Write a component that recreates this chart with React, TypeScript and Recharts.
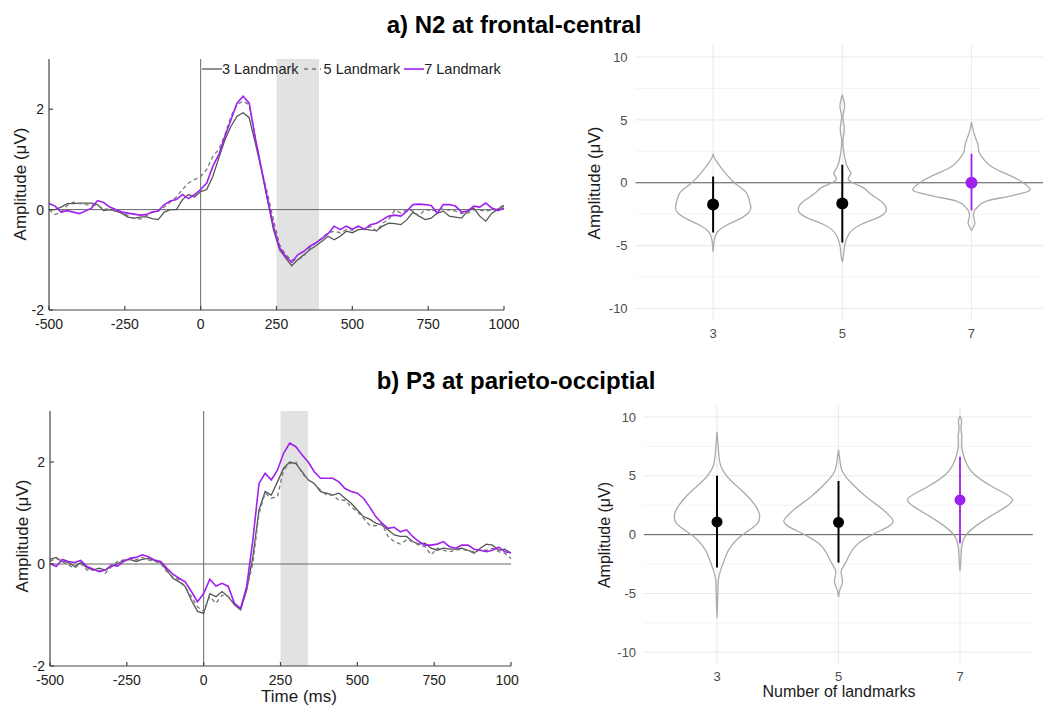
import React from 'react';
import {
  LineChart, Line, XAxis, YAxis, ReferenceLine, ReferenceArea,
  ScatterChart, Scatter, CartesianGrid,
} from 'recharts';

// ---------- ERP data (µV) ----------
const times = [-500,-480,-460,-440,-420,-400,-380,-360,-340,-320,-300,-280,-260,-240,-220,-200,-180,-160,-140,-120,-100,-80,-60,-40,-20,0,
  20,40,60,80,100,120,140,160,180,200,220,240,260,280,300,320,340,360,380,400,420,440,460,480,500,
  520,540,560,580,600,620,640,660,680,700,720,740,760,780,800,820,840,860,880,900,920,940,960,980,1000];
const xTicks = [-500, -250, 0, 250, 500, 750, 1000];
const yTicksErp = [-2, 0, 2];
const seriesNames = ['3 Landmark', '5 Landmark', '7 Landmark'];

const n2_3 = [0.0,0.0,0.05,0.12,0.12,0.13,0.13,0.13,0.1,-0.02,0.0,-0.03,-0.07,-0.15,-0.17,-0.15,-0.14,-0.18,-0.2,-0.05,0.0,0.0,0.2,0.3,0.25,0.36,
  0.4,0.66,1.03,1.39,1.66,1.86,1.93,1.83,1.33,0.8,0.2,-0.4,-0.8,-0.96,-1.12,-1.0,-0.9,-0.8,-0.72,-0.63,-0.53,-0.6,-0.53,-0.43,-0.46,
  -0.4,-0.39,-0.41,-0.42,-0.33,-0.27,-0.28,-0.3,-0.2,-0.05,-0.13,-0.2,-0.17,-0.07,-0.03,-0.13,-0.15,-0.17,-0.03,0.03,-0.13,-0.23,-0.07,0.01,0.08];
const n2_5 = [0.0,-0.1,-0.05,0.08,0.15,0.12,0.1,0.09,0.08,0.02,0.0,-0.03,-0.05,-0.12,-0.18,-0.19,-0.13,-0.05,-0.03,0.05,0.15,0.25,0.4,0.53,0.6,0.66,
  0.8,1.06,1.2,1.49,1.86,2.09,2.16,2.09,1.43,0.8,0.33,-0.2,-0.7,-0.9,-1.0,-1.0,-0.93,-0.76,-0.66,-0.56,-0.46,-0.43,-0.46,-0.4,-0.41,
  -0.33,-0.4,-0.33,-0.43,-0.27,-0.2,-0.01,-0.07,0.0,-0.03,-0.13,0.01,-0.03,0.0,0.01,-0.01,-0.03,-0.08,-0.07,0.0,-0.01,-0.03,-0.01,0.01,0.1];
const n2_7 = [0.12,0.07,-0.05,-0.02,-0.05,-0.08,-0.03,0.03,0.18,0.14,0.05,0.0,-0.05,-0.07,-0.09,-0.11,-0.1,-0.05,-0.03,0.1,0.17,0.2,0.3,0.22,0.3,0.4,
  0.53,0.86,1.1,1.46,1.79,2.12,2.26,2.12,1.43,0.83,0.23,-0.33,-0.76,-0.93,-1.05,-0.9,-0.83,-0.73,-0.66,-0.58,-0.48,-0.33,-0.4,-0.33,-0.39,
  -0.33,-0.39,-0.3,-0.27,-0.2,-0.13,-0.11,-0.13,-0.03,0.1,0.11,0.1,0.08,-0.07,0.1,0.1,0.07,-0.05,-0.03,0.07,0.05,0.13,0.03,-0.02,0.03];

const p3_3 = [0.09,0.13,0.05,0.03,-0.05,0.03,-0.07,-0.12,-0.08,-0.12,-0.05,0.01,0.07,0.09,0.05,0.09,0.11,0.07,0.03,-0.12,-0.28,-0.35,-0.44,-0.71,-0.93,-0.97,
  -0.58,-0.64,-0.54,-0.64,-0.8,-0.9,-0.51,0.14,1.06,1.42,1.35,1.61,1.88,2.0,1.97,1.81,1.65,1.58,1.42,1.39,1.35,1.39,1.29,1.19,1.06,
  0.93,0.88,0.8,0.76,0.67,0.57,0.54,0.54,0.44,0.39,0.41,0.31,0.27,0.31,0.29,0.29,0.31,0.27,0.21,0.31,0.39,0.37,0.27,0.29,0.21];
const p3_5 = [0.05,0.11,0.05,-0.02,-0.08,0.01,-0.12,-0.12,-0.12,-0.18,-0.05,0.05,0.08,0.09,0.08,0.13,0.08,0.05,0.01,-0.15,-0.25,-0.31,-0.44,-0.64,-0.84,-0.93,
  -0.64,-0.77,-0.61,-0.64,-0.77,-0.9,-0.48,0.01,0.99,1.39,1.29,1.32,1.84,1.97,2.0,1.78,1.65,1.57,1.45,1.35,1.35,1.25,1.25,1.12,1.03,
  0.9,0.76,0.75,0.8,0.54,0.44,0.39,0.47,0.44,0.37,0.34,0.18,0.31,0.27,0.24,0.27,0.29,0.26,0.24,0.27,0.27,0.31,0.24,0.21,0.11];
const p3_7 = [0.01,-0.05,0.09,0.05,0.03,0.07,-0.05,-0.1,-0.15,-0.12,-0.02,-0.04,0.05,0.11,0.13,0.18,0.14,0.08,0.05,-0.08,-0.2,-0.28,-0.35,-0.54,-0.74,-0.58,
  -0.3,-0.43,-0.38,-0.44,-0.77,-0.87,-0.44,0.47,1.58,1.78,1.65,1.84,2.17,2.37,2.3,2.14,2.0,1.81,1.68,1.68,1.68,1.61,1.48,1.42,1.39,
  1.29,1.12,0.93,0.8,0.7,0.72,0.63,0.67,0.54,0.44,0.37,0.37,0.39,0.44,0.34,0.31,0.37,0.37,0.29,0.27,0.24,0.27,0.33,0.24,0.22];

const n2Window = [250, 390];
const p3Window = [250, 340];

// ---------- Violin data: [amplitude µV, half-width in category units] ----------
const catLabels = ['3', '5', '7'];
const violinYTicks = [-10, -5, 0, 5, 10];
const gridMajor = [-10, -5, 0, 5, 10];
const gridMinor = [-7.5, -2.5, 2.5, 7.5];

const n2Violin3 = [[2.3,0],[1.8,0.02],[0.7,0.1],[-0.1,0.176],[-0.75,0.253],[-1.4,0.28],[-2.1,0.29],[-2.75,0.227],[-3.4,0.1],[-3.9,0.034],[-4.6,0.008],[-5.5,0]];
const n2Violin5 = [[7.0,0],[6.05,0.018],[5.25,0.005],[4.3,0.016],[3.4,0.005],[2.2,0.015],[1.25,0.04],[0.7,0.065],[0.2,0.05],[-0.35,0.155],[-0.9,0.22],[-1.55,0.31],[-2.2,0.34],[-2.75,0.28],[-3.4,0.13],[-4.1,0.05],[-4.9,0.02],[-5.7,0.01],[-6.3,0]];
const n2Violin7 = [[4.85,0],[4.3,0.01],[3.6,0.03],[3.0,0.05],[2.4,0.06],[1.8,0.1],[1.25,0.16],[0.7,0.27],[0.2,0.37],[-0.5,0.452],[-0.8,0.4],[-1.1,0.28],[-1.45,0.12],[-1.9,0.05],[-2.3,0.02],[-2.8,0.018],[-3.2,0.026],[-3.5,0.015],[-3.8,0]];
const n2Means = [-1.73, -1.65, 0.0];
const n2Lo = [-3.95, -4.75, -2.2];
const n2Hi = [0.5, 1.44, 2.3];

const p3Violin3 = [[8.75,0],[7.75,0.008],[6.9,0.014],[5.8,0.033],[4.65,0.11],[3.5,0.23],[2.4,0.32],[1.67,0.35],[0.96,0.333],[0.25,0.246],[-0.45,0.16],[-1.3,0.096],[-2.15,0.06],[-3.0,0.03],[-3.85,0.011],[-4.7,0.008],[-5.55,0.005],[-7.1,0]];
const p3Violin5 = [[7.2,0],[6.35,0.011],[5.35,0.033],[4.35,0.11],[3.2,0.23],[2.1,0.37],[1.4,0.437],[1.1,0.45],[0.68,0.41],[0.11,0.3],[-0.74,0.164],[-1.6,0.096],[-2.45,0.055],[-3.15,0.022],[-4.0,0.033],[-4.7,0.011],[-5.3,0]];
const p3Violin7 = [[10.1,0],[9.6,0.014],[9.0,0.008],[8.3,0.016],[7.5,0.014],[6.35,0.041],[5.2,0.11],[4.2,0.246],[3.5,0.369],[3.0,0.432],[2.4,0.383],[1.53,0.246],[0.68,0.123],[-0.17,0.041],[-1.0,0.014],[-1.87,0.008],[-3.15,0]];
const p3Means = [1.08, 1.05, 2.95];
const p3Lo = [-2.8, -2.38, -0.74];
const p3Hi = [5.0, 4.56, 6.63];

// ---------- styles ----------
const FONT = "'Liberation Sans', Arial, Helvetica, sans-serif";
const C3 = '#555555';
const C5 = '#777777';
const C7 = '#a020f0';
const dotColors = ['#000000', '#000000', C7];

function buildRows(a: number[], b: number[], c: number[]) {
  return times.map((t, i) => ({ t, s3: a[i], s5: b[i], s7: c[i] }));
}

function outline(pairs: number[][], c: number) {
  const left = pairs.map(([y, w]) => ({ x: c - w, y }));
  const right = [...pairs].reverse().slice(1).map(([y, w]) => ({ x: c + w, y }));
  return left.concat(right);
}

const noShape = () => null;

function ErpChart({ rows, win, width, height, top, plotRight, yAxisWidth }: any) {
  return (
    <LineChart width={width} height={height} data={rows}
      margin={{ top, right: width - plotRight, bottom: 0, left: 0 }}
      style={{ fontFamily: FONT }}>
      <ReferenceArea x1={win[0]} x2={win[1]} fill="#e2e2e2" fillOpacity={1} stroke="none" />
      <ReferenceLine x={0} stroke="#666" strokeWidth={1} />
      <ReferenceLine y={0} stroke="#666" strokeWidth={1} />
      <XAxis type="number" dataKey="t" domain={[-500, 1000]} ticks={xTicks} interval={0}
        tickSize={-4} tickMargin={13} height={30} stroke="#444" strokeWidth={1.2}
        tick={{ fill: '#222', fontSize: 14, fontFamily: FONT }} />
      <YAxis type="number" domain={[-2, 3]} ticks={yTicksErp} interval={0}
        tickSize={-4} tickMargin={9} width={yAxisWidth} stroke="#444" strokeWidth={1.2}
        tick={{ fill: '#222', fontSize: 14, fontFamily: FONT }} />
      <Line type="linear" dataKey="s3" name={seriesNames[0]} stroke={C3} strokeWidth={1.3} dot={false} isAnimationActive={false} />
      <Line type="linear" dataKey="s5" name={seriesNames[1]} stroke={C5} strokeWidth={1.3} strokeDasharray="4 3" dot={false} isAnimationActive={false} />
      <Line type="linear" dataKey="s7" name={seriesNames[2]} stroke={C7} strokeWidth={1.6} dot={false} isAnimationActive={false} />
    </LineChart>
  );
}

function ViolinChart({ violins, means, lo, hi, width, height, margin, dotR }: any) {
  const meanData = means.map((m: number, i: number) => ({ x: i + 1, y: m, c: dotColors[i] }));
  return (
    <ScatterChart width={width} height={height} margin={margin} style={{ fontFamily: FONT }}>
      <CartesianGrid stroke="#ececec" strokeWidth={0.6} horizontalValues={gridMinor} vertical={false} />
      <CartesianGrid stroke="#ebebeb" strokeWidth={1.1} horizontalValues={gridMajor} verticalValues={[1, 2, 3]} />
      <XAxis type="number" dataKey="x" domain={[0.4, 3.6]} ticks={[1, 2, 3]} interval={0}
        tickFormatter={(v: number) => catLabels[v - 1]} axisLine={false} tickLine={false}
        tickSize={0} tickMargin={8} height={30} allowDataOverflow
        tick={{ fill: '#4d4d4d', fontSize: 13, fontFamily: FONT }} />
      <YAxis type="number" dataKey="y" domain={[-11, 11]} ticks={violinYTicks} interval={0}
        axisLine={false} tickLine={false} tickSize={0} tickMargin={8} width={45} allowDataOverflow
        tick={{ fill: '#4d4d4d', fontSize: 13, fontFamily: FONT }} />
      <ReferenceLine y={0} stroke="#5a5a5a" strokeWidth={1} />
      {violins.map((v: number[][], i: number) => (
        <Scatter key={'v' + i} data={outline(v, i + 1)} fill="#ababab" lineJointType="natural"
          line={{ stroke: '#ababab', strokeWidth: 1.3 }} shape={noShape} isAnimationActive={false} />
      ))}
      {means.map((_: number, i: number) => (
        <Scatter key={'e' + i} data={[{ x: i + 1, y: lo[i] }, { x: i + 1, y: hi[i] }]} fill={dotColors[i]}
          line={{ stroke: dotColors[i], strokeWidth: i === 2 ? 1.8 : 2 }} shape={noShape} isAnimationActive={false} />
      ))}
      <Scatter data={meanData} isAnimationActive={false}
        shape={(p: any) => <circle cx={p.cx} cy={p.cy} r={dotR} fill={p.payload.c} />} />
    </ScatterChart>
  );
}

function VLabel({ text, cx, cy, size }: any) {
  return (
    <div style={{ position: 'absolute', left: cx, top: cy, transform: 'translate(-50%, -50%) rotate(-90deg)',
      whiteSpace: 'nowrap', fontSize: size, lineHeight: 1, color: '#1a1a1a', fontFamily: FONT }}>{text}</div>
  );
}

function HLabel({ text, cx, cy, size, bold }: any) {
  return (
    <div style={{ position: 'absolute', left: cx, top: cy, transform: 'translate(-50%, -50%)',
      whiteSpace: 'nowrap', fontSize: size, lineHeight: 1, color: bold ? '#000' : '#1a1a1a',
      fontWeight: bold ? 'bold' : 'normal', fontFamily: FONT }}>{text}</div>
  );
}

function ErpLegend() {
  return (
    <div style={{ position: 'absolute', left: 201, top: 61, display: 'flex', alignItems: 'center',
      fontSize: 14.5, lineHeight: '16px', color: '#222', fontFamily: FONT, whiteSpace: 'nowrap' }}>
      <svg width={21} height={10}><line x1={1} y1={5} x2={21} y2={5} stroke={C3} strokeWidth={1.3} /></svg>
      <span>{seriesNames[0]}</span>
      <svg width={19} height={10} style={{ marginLeft: 4 }}><line x1={1} y1={5} x2={18} y2={5} stroke={C5} strokeWidth={1.3} strokeDasharray="4 4" /></svg>
      <span style={{ marginLeft: 2 }}>{seriesNames[1]}</span>
      <svg width={21} height={10} style={{ marginLeft: 3 }}><line x1={1} y1={5} x2={21} y2={5} stroke={C7} strokeWidth={1.6} /></svg>
      <span>{seriesNames[2]}</span>
    </div>
  );
}

export default function App() {
  const n2Rows = buildRows(n2_3, n2_5, n2_7);
  const p3Rows = buildRows(p3_3, p3_5, p3_7);
  return (
    <div style={{ position: 'absolute', left: 0, top: 0, width: 1043, height: 705, overflow: 'hidden',
      background: '#fff', fontFamily: FONT }}>
      <HLabel text="a) N2 at frontal-central" cx={514} cy={25} size={24} bold />
      <HLabel text="b) P3 at parieto-occiptial" cx={516} cy={381} size={24} bold />

      {/* top-left ERP */}
      <div style={{ position: 'absolute', left: 0, top: 0, width: 519, height: 345, overflow: 'hidden' }}>
        <ErpChart rows={n2Rows} win={n2Window} width={545} height={340} top={59} plotRight={504} yAxisWidth={49} />
      </div>
      <ErpLegend />
      <VLabel text="Amplitude (μV)" cx={20} cy={184} size={17} />

      {/* bottom-left ERP */}
      <div style={{ position: 'absolute', left: 0, top: 352, width: 519, height: 344, overflow: 'hidden' }}>
        <ErpChart rows={p3Rows} win={p3Window} width={545} height={344} top={59} plotRight={511} yAxisWidth={50} />
      </div>
      <VLabel text="Amplitude (μV)" cx={22} cy={536} size={17} />
      <HLabel text="Time (ms)" cx={299} cy={696} size={17} />

      {/* top-right violins */}
      <div style={{ position: 'absolute', left: 560, top: 35 }}>
        <ViolinChart violins={[n2Violin3, n2Violin5, n2Violin7]} means={n2Means} lo={n2Lo} hi={n2Hi}
          width={489} height={316} margin={{ top: 9.5, right: 0, bottom: 0, left: 30.6 }} dotR={6} />
      </div>
      <VLabel text="Amplitude (μV)" cx={594} cy={183} size={17} />

      {/* bottom-right violins */}
      <div style={{ position: 'absolute', left: 560, top: 395 }}>
        <ViolinChart violins={[p3Violin3, p3Violin5, p3Violin7]} means={p3Means} lo={p3Lo} hi={p3Hi}
          width={483} height={299} margin={{ top: 10.25, right: 10.1, bottom: 0, left: 39.1 }} dotR={5.5} />
      </div>
      <VLabel text="Amplitude (μV)" cx={605} cy={535} size={16} />
      <HLabel text="Number of landmarks" cx={839} cy={692} size={16} />
    </div>
  );
}
